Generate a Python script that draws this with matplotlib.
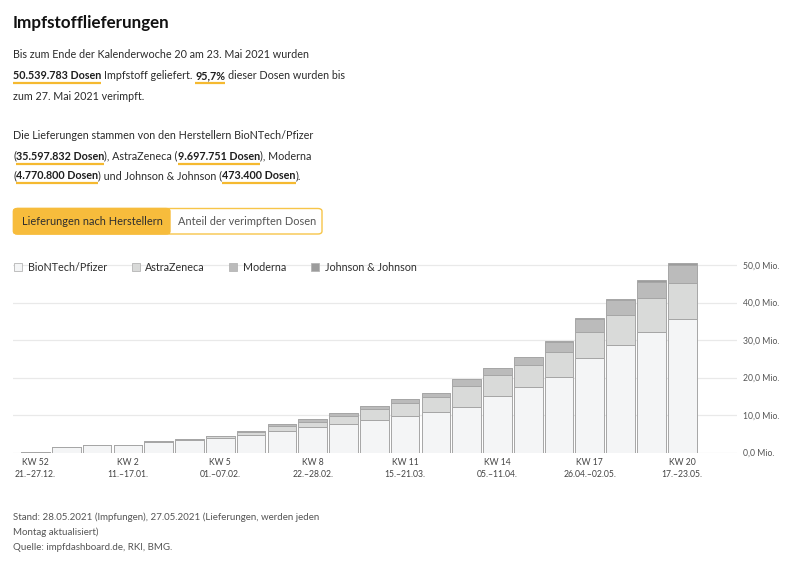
import matplotlib
matplotlib.use('Agg')
import matplotlib.pyplot as plt
from matplotlib.patches import Rectangle, FancyBboxPatch
from matplotlib.lines import Line2D
import numpy as np

# ---------------- data (Mio. doses, cumulative) ----------------
weeks = ['KW 52', 'KW 53', 'KW 1', 'KW 2', 'KW 3', 'KW 4', 'KW 5', 'KW 6', 'KW 7', 'KW 8',
         'KW 9', 'KW 10', 'KW 11', 'KW 12', 'KW 13', 'KW 14', 'KW 15', 'KW 16', 'KW 17',
         'KW 18', 'KW 19', 'KW 20']
dates = ['21.–27.12.', '28.12.–03.01.', '04.–10.01.', '11.–17.01.', '18.–24.01.', '25.–31.01.',
         '01.–07.02.', '08.–14.02.', '15.–21.02.', '22.–28.02.', '01.–07.03.', '08.–14.03.',
         '15.–21.03.', '22.–28.03.', '29.03.–04.04.', '05.–11.04.', '12.–18.04.', '19.–25.04.',
         '26.04.–02.05.', '03.–09.05.', '10.–16.05.', '17.–23.05.']
biontech = [0.15, 1.35, 2.0, 2.0, 2.9, 3.45, 4.0, 4.7, 5.8, 6.75, 7.55, 8.7, 9.7, 10.9,
            12.2, 15.0, 17.55, 20.05, 25.3, 28.6, 32.05, 35.6]
astrazeneca = [0, 0, 0, 0, 0, 0, 0.3, 0.65, 1.15, 1.5, 2.2, 3.0, 3.4, 3.8,
               5.55, 5.6, 5.85, 6.65, 6.9, 8.1, 9.05, 9.7]
moderna = [0, 0, 0, 0.06, 0.06, 0.12, 0.2, 0.45, 0.65, 0.75, 0.75, 0.8, 1.2, 1.3,
           1.9, 1.9, 2.0, 2.85, 3.37, 4.07, 4.43, 4.77]
johnson = [0, 0, 0, 0, 0, 0, 0, 0, 0, 0, 0, 0, 0, 0,
           0, 0, 0, 0.23, 0.23, 0.23, 0.47, 0.47]
series_names = ['BioNTech/Pfizer', 'AstraZeneca', 'Moderna', 'Johnson & Johnson']
yticks = [0, 10, 20, 30, 40, 50]
ytick_labels = ['0,0 Mio.', '10,0 Mio.', '20,0 Mio.', '30,0 Mio.', '40,0 Mio.', '50,0 Mio.']

colors = ['#f4f5f6', '#d9dad9', '#bbbbbb', '#9c9c9c']
YEL = '#f5b930'
FONT = 'Lato'

W, H = 800, 566
fig = plt.figure(figsize=(W / 100, H / 100), dpi=100)
fig.patch.set_facecolor('white')
R = fig.canvas.get_renderer()


def fx(x):
    return x / W


def fy(y):
    return 1 - y / H


def text_w(s, size, weight='normal'):
    t = fig.text(0, 0, s, fontsize=size, fontweight=weight, family=FONT)
    w = t.get_window_extent(renderer=R).width
    t.remove()
    return w


def fit(s, target, weight='normal'):
    return 10 * target / text_w(s, 10, weight)


def rich(x, y, runs, size, color='#2b2b2b', bcolor='#1e1e1e'):
    sp = text_w('a a', size) - text_w('aa', size)
    for s, bold, ul in runs:
        lead = len(s) - len(s.lstrip(' '))
        trail = len(s) - len(s.rstrip(' '))
        x += lead * sp
        core = s.strip(' ')
        if core:
            t = fig.text(fx(x), fy(y), core, fontsize=size, family=FONT,
                         fontweight='bold' if bold else 'normal',
                         color=bcolor if bold else color, va='baseline', ha='left')
            w = t.get_window_extent(renderer=R).width
            if ul:
                fig.add_artist(Line2D([fx(x), fx(x + w)], [fy(y + 4.0)] * 2,
                                      color=YEL, lw=1.6, solid_capstyle='butt'))
            x += w
        x += trail * sp


# ---------------- title and text ----------------
ts = fit('Impfstofflieferungen', 157, 'bold')
fig.text(fx(13), fy(28), 'Impfstofflieferungen', fontsize=ts, fontweight='bold',
         family=FONT, color='#111111', va='baseline')

bs = fit('Bis zum Ende der Kalenderwoche 20 am 23. Mai 2021 wurden', 296)
rich(13, 57.5, [('Bis zum Ende der Kalenderwoche 20 am 23. Mai 2021 wurden', False, False)], bs)
rich(13, 79, [('50.539.783 Dosen', True, True), (' Impfstoff geliefert. ', False, False),
              ('95,7%', True, True), (' dieser Dosen wurden bis', False, False)], bs)
rich(13, 99.5, [('zum 27. Mai 2021 verimpft.', False, False)], bs)
rich(13, 139, [('Die Lieferungen stammen von den Herstellern BioNTech/Pfizer', False, False)], bs)
rich(13, 159.5, [('(', False, False), ('35.597.832 Dosen', True, True),
                 ('), AstraZeneca (', False, False), ('9.697.751 Dosen', True, True),
                 ('), Moderna', False, False)], bs)
rich(13, 179, [('(', False, False), ('4.770.800 Dosen', True, True),
               (') und Johnson & Johnson (', False, False), ('473.400 Dosen', True, True),
               (').', False, False)], bs)

# ---------------- toggle buttons ----------------
bx0, bx1, bsplit, by0, by1 = 13.5, 322, 170, 208.5, 234
outer = FancyBboxPatch((fx(bx0), fy(by1)), fx(bx1) - fx(bx0), fy(by0) - fy(by1),
                       boxstyle='round,pad=0,rounding_size=0.005', transform=fig.transFigure,
                       facecolor='white', edgecolor='#f7c549', lw=1.0)
fig.add_artist(outer)
left = FancyBboxPatch((fx(bx0), fy(by1)), fx(bsplit) - fx(bx0), fy(by0) - fy(by1),
                      boxstyle='round,pad=0,rounding_size=0.005', transform=fig.transFigure,
                      facecolor='#f7bc3c', edgecolor='#f7bc3c', lw=1.0)
fig.add_artist(left)
fig.add_artist(Rectangle((fx(bsplit - 6), fy(by1)), fx(6), fy(by0) - fy(by1),
                         transform=fig.transFigure, facecolor='#f7bc3c', edgecolor='none'))
btn_s = fit('Lieferungen nach Herstellern', 140)
fig.text(fx(22.5), fy(225.3), 'Lieferungen nach Herstellern', fontsize=btn_s, family=FONT,
         color='#2e2e2e', va='baseline')
fig.text(fx(177.5), fy(225.3), 'Anteil der verimpften Dosen', fontsize=btn_s, family=FONT,
         color='#555555', va='baseline')

# ---------------- legend ----------------
leg_s = fit('BioNTech/Pfizer', 79)
leg_sq = [13.5, 131.5, 228.5, 310.5]
leg_tx = [27.5, 145, 243, 325]
for name, c, sx, tx in zip(series_names, colors, leg_sq, leg_tx):
    fig.add_artist(Rectangle((fx(sx), fy(271)), fx(8), fy(263) - fy(271),
                             transform=fig.transFigure, facecolor=c, edgecolor='#b5b5b5', lw=0.6))
    fig.text(fx(tx), fy(271), name, fontsize=leg_s, family=FONT, color='#2e2e2e', va='baseline')

# ---------------- chart ----------------
px_per = 3.75
ytop = 52
ax = fig.add_axes([fx(13), fy(452.5), fx(737) - fx(13), ytop * px_per / H])
x = np.arange(len(weeks))
ax.set_xlim(-0.73, 22.78)
ax.set_ylim(0, ytop)
for yv in yticks:
    ax.axhline(yv, color='#e9e9e9', lw=0.9, zorder=0)
bottom = np.zeros(len(weeks))
for vals, c in zip([biontech, astrazeneca, moderna, johnson], colors):
    v = np.array(vals)
    ax.bar(x, v, bottom=bottom, width=0.93, color=c, edgecolor='#a6a6a6', lw=0.7, zorder=2)
    bottom += v
for s in ax.spines.values():
    s.set_visible(False)

tick_s = fit('50,0 Mio.', 36)
ax.yaxis.tick_right()
ax.set_yticks(yticks)
ax.set_yticklabels(ytick_labels, fontsize=tick_s, family=FONT, color='#555555')
ax.tick_params(axis='y', length=0, pad=4)

xs = fit('21.–27.12.', 41)
ax.set_xticks(x[::3])
ax.set_xticklabels([f'{w}\n{d}' for w, d in zip(weeks[::3], dates[::3])],
                   fontsize=xs, family=FONT, color='#444444', linespacing=1.35)
ax.tick_params(axis='x', length=0, pad=4)

# ---------------- footer ----------------
fs = fit('Stand: 28.05.2021 (Impfungen), 27.05.2021 (Lieferungen, werden jeden', 306)
for yy, line in zip([519.5, 535, 550.5],
                    ['Stand: 28.05.2021 (Impfungen), 27.05.2021 (Lieferungen, werden jeden',
                     'Montag aktualisiert)', 'Quelle: impfdashboard.de, RKI, BMG.']):
    fig.text(fx(13), fy(yy), line, fontsize=fs, family=FONT, color='#555555', va='baseline')

fig.savefig('out.png', dpi=100, facecolor='white')
